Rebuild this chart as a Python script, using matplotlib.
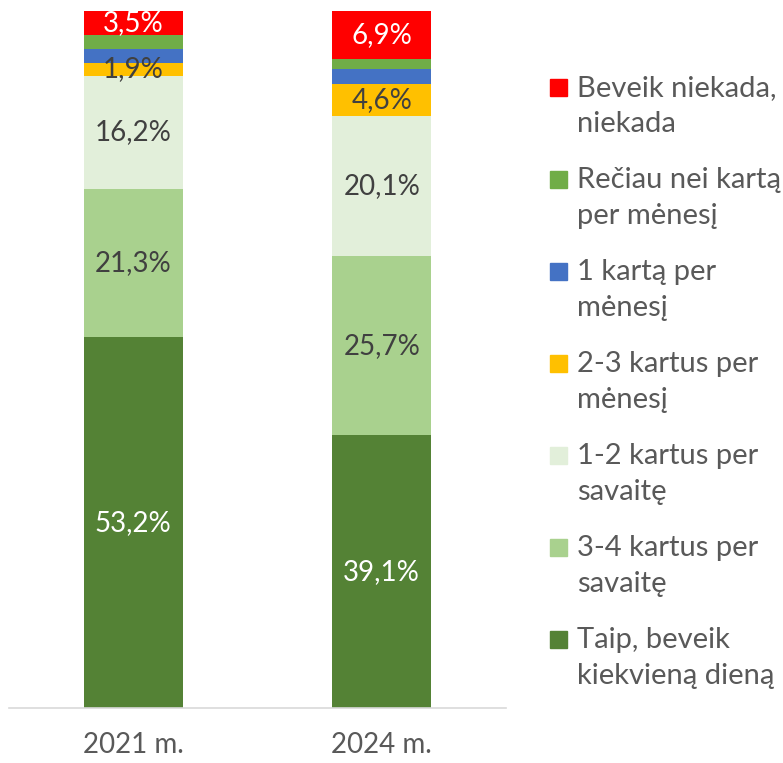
import matplotlib.pyplot as plt
from matplotlib.patches import Rectangle

plt.rcParams["font.family"] = ["Lato", "DejaVu Sans"]

years = ["2021 m.", "2024 m."]
categories = [
    "Taip, beveik\nkiekvieną dieną",
    "3-4 kartus per\nsavaitę",
    "1-2 kartus per\nsavaitę",
    "2-3 kartus per\nmėnesį",
    "1 kartą per\nmėnesį",
    "Rečiau nei kartą\nper mėnesį",
    "Beveik niekada,\nniekada",
]
values_2021 = [53.2, 21.3, 16.2, 1.9, 1.9, 2.0, 3.5]
values_2024 = [39.1, 25.7, 20.1, 4.6, 2.2, 1.4, 6.9]
show_label = [True, True, True, True, False, False, True]

colors = ["#548235", "#A9D18E", "#E2EFDA", "#FFC000", "#4472C4", "#70AD47", "#FF0000"]
label_colors = ["white", "#404040", "#404040", "#404040", "white", "white", "white"]

W, H = 783, 763
fig = plt.figure(figsize=(W / 100, H / 100), dpi=100)
ax = fig.add_axes([9 / W, 1 - 708 / H, 497 / W, 697 / H])

series = list(zip(values_2021, values_2024))
bottoms = [0.0, 0.0]
for i, vals in enumerate(series):
    bars = ax.bar([0, 1], vals, width=0.4, bottom=bottoms, color=colors[i])
    if show_label[i]:
        for b, v in zip(bars, vals):
            ax.text(b.get_x() + b.get_width() / 2, b.get_y() + v / 2,
                    f"{v:.1f}%".replace(".", ","), ha="center", va="center",
                    fontsize=20, color=label_colors[i])
    bottoms = [bottoms[0] + vals[0], bottoms[1] + vals[1]]

ax.set_xlim(-0.5, 1.5)
ax.set_ylim(0, 100)
ax.set_xticks([0, 1])
ax.set_xticklabels(years, fontsize=20, color="#595959")
ax.tick_params(axis="x", length=0, pad=17)
ax.set_yticks([])
for s in ["top", "left", "right"]:
    ax.spines[s].set_visible(False)
ax.spines["bottom"].set_color("#D9D9D9")
ax.spines["bottom"].set_linewidth(1.2)

# legend, drawn by hand (top entry first)
first_y = 88
step = 92
for k, idx in enumerate(reversed(range(len(categories)))):
    yc = first_y + k * step
    fig.patches.append(Rectangle((550 / W, 1 - (yc + 8) / H), 17 / W, 17 / H,
                                 transform=fig.transFigure, color=colors[idx]))
    for j, line in enumerate(categories[idx].split("\n")):
        fig.text(577 / W, 1 - (yc + j * 36) / H, line, ha="left", va="center",
                 fontsize=21, color="#595959")

plt.savefig("out.png", dpi=100)
